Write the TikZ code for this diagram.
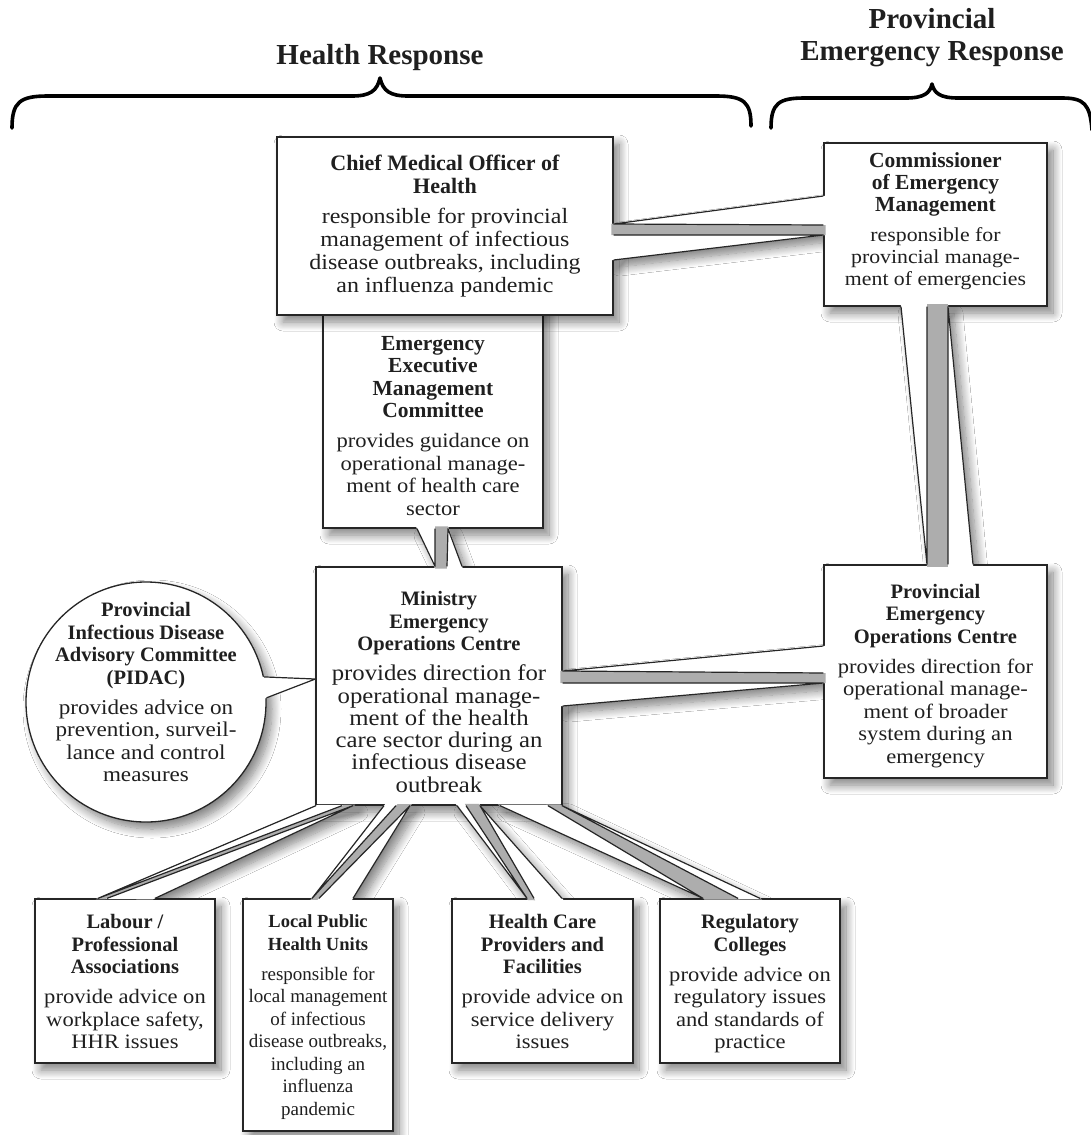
\documentclass[tikz,border=0pt]{standalone}
\usepackage{fontspec}
\setmainfont{Liberation Serif}[UprightFeatures={FakeStretch=1.1}]
\newfontfamily\plainserif{Liberation Serif}
\usetikzlibrary{calc,shadows.blur}

\tikzset{
  softshadow/.style={blur shadow={shadow xshift=6pt, shadow yshift=-7pt, shadow blur radius=9pt,
      shadow blur steps=12, shadow opacity=50}},
  orgbox/.style={draw=black!85, line width=1.3pt, fill=white, rectangle, inner sep=0pt, softshadow},
  orgtext/.style={align=center, text=black!88, font=\fontsize{20.5}{22.5}\selectfont, inner sep=0pt},
  ribline/.style={draw=black!85, line width=1.2pt, line join=round},
  bandfill/.style={fill=black!32},
  header/.style={font=\fontsize{29}{32}\selectfont\bfseries, text=black!88, align=center, inner sep=0pt},
  brace/.style={draw=black, line width=3.6pt, line cap=round, line join=round},
}

% bold heading line of a box, optional size
\newcommand\ttl[2][20.5]{{\fontsize{#1}{22.5}\selectfont\bfseries #2}}

% soft shadow of a connector: #1,#3 outer points on one box, #4,#6 on the other
\newcommand\ribbonshadow[6]{%
  \fill[white, softshadow] (#4) -- (#1) -- (#3) -- (#6) -- cycle;
}
% Two facing callout wedges with a shaded band between them.
% #1,#2,#3: points on the first box edge; #4,#5,#6: points on the second box edge.
\newcommand\ribbon[6]{%
  \fill[white] ($(#4)!-2.2pt!(#1)$) -- ($(#1)!-2.2pt!(#5)$) -- ($(#3)!-2.2pt!(#6)$) -- ($(#6)!-2.2pt!(#2)$) -- cycle;
  \fill[bandfill] ($(#1)!-2.2pt!(#5)$) -- ($(#5)!-2.2pt!(#1)$) -- ($(#6)!-2.2pt!(#2)$) -- ($(#2)!-2.2pt!(#6)$) -- cycle;
  \draw[ribline] (#4) -- (#1) -- (#5);
  \draw[ribline] (#2) -- (#6) -- (#3);
}

\begin{document}
\begin{tikzpicture}[x=1pt, y=-1pt]
\useasboundingbox (0,0) rectangle (1091,1135);
\fill[white] (0,0) rectangle (1091,1135);
% off-page warm-up of the shadow transparency states
\fill[white, softshadow] (-300,-300) rectangle (-250,-250);

% headings and braces
\node[header, anchor=base] (hhealth) at (380,64) {Health Response};
\node[header] (hprov) at (932,38) {Provincial\\Emergency Response};
\draw[brace] (12,128) .. controls (12,102) and (20,96) .. (48,96) -- (352,96)
  .. controls (370,96) and (377,91) .. (380,78) .. controls (383,91) and (390,96) .. (408,96)
  -- (716,96) .. controls (744,96) and (751,102) .. (751,126);
\draw[brace] (771,128) .. controls (771,103) and (779,98) .. (805,98) -- (906,98)
  .. controls (924,98) and (930,93) .. (932,84) .. controls (934,93) and (940,98) .. (958,98)
  -- (1062,98) .. controls (1084,98) and (1090,104) .. (1092,130);

% boxes and their texts
\node[orgbox, minimum width=220pt, minimum height=228pt] (eemc) at (433,414) {};
\node[orgtext] (eemctxt) at (433,426)
  {\ttl[21.5]{Emergency}\\\ttl[21.5]{Executive}\\\ttl[21.5]{Management}\\\ttl[21.5]{Committee}\\[7.5pt]provides guidance on\\operational manage-\\ment of health care\\sector};
\node[orgbox, minimum width=336pt, minimum height=178pt] (cmoh) at (445,226) {};
\node[orgtext, font=\fontsize{21.8}{23}\selectfont] (cmohtxt) at (445,226)
  {\ttl[22]{Chief Medical Officer of}\\\ttl[22]{Health}\\[7.5pt]responsible for provincial\\management of infectious\\disease outbreaks, including\\an influenza pandemic};
\node[orgbox, minimum width=223pt, minimum height=163pt] (comm) at (935.5,224.5) {};
\node[orgtext, font=\fontsize{19.8}{22}\selectfont] (commtxt) at (935.5,221)
  {\ttl[21.5]{Commissioner}\\\ttl[21.5]{of Emergency}\\\ttl[21.5]{Management}\\[7.5pt]responsible for\\provincial manage-\\ment of emergencies};
\node[orgbox, circle, minimum size=240pt] (pidac) at (146,702) {};
\node[orgtext, font=\fontsize{21}{22.5}\selectfont] (pidactxt) at (146,692)
  {\ttl{Provincial}\\\ttl{Infectious Disease}\\\ttl{Advisory Committee}\\\ttl{(PIDAC)}\\[7.5pt]provides advice on\\prevention, surveil-\\lance and control\\measures};
\node[orgbox, minimum width=246pt, minimum height=238pt] (ministry) at (439,686) {};
\node[orgtext, font=\fontsize{22.5}{22.3}\selectfont] (ministrytxt) at (439,692)
  {\ttl{Ministry}\\\ttl{Emergency}\\\ttl{Operations Centre}\\[8pt]provides direction for\\operational manage-\\ment of the health\\care sector during an\\infectious disease\\outbreak};
\node[orgbox, minimum width=223pt, minimum height=213pt] (peoc) at (935.5,671.5) {};
\node[orgtext] (peoctxt) at (935.5,676)
  {\ttl{Provincial}\\\ttl{Emergency}\\\ttl{Operations Centre}\\[7.5pt]provides direction for\\operational manage-\\ment of broader\\system during an\\emergency};
\node[orgbox, minimum width=180pt, minimum height=164pt] (labour) at (125,981) {};
\node[orgtext] (labourtxt) at (125,981.5)
  {\ttl{Labour /}\\\ttl{Professional}\\\ttl{Associations}\\[7.5pt]provide advice on\\workplace safety,\\HHR issues};
\node[orgbox, minimum width=150pt, minimum height=232pt] (lphu) at (318,1015) {};
\node[orgtext, font=\plainserif\fontsize{19}{22.5}\selectfont] (lphutxt) at (318,1017)
  {\ttl[18.5]{Local Public}\\\ttl[18.5]{Health Units}\\[7.5pt]responsible for\\local management\\of infectious\\disease outbreaks,\\including an\\influenza\\pandemic};
\node[orgbox, minimum width=181pt, minimum height=164pt] (hcpf) at (542.5,981) {};
\node[orgtext] (hcpftxt) at (542.5,981.5)
  {\ttl{Health Care}\\\ttl{Providers and}\\\ttl{Facilities}\\[7.5pt]provide advice on\\service delivery\\issues};
\node[orgbox, minimum width=180pt, minimum height=164pt] (reg) at (750,981) {};
\node[orgtext] (regtxt) at (750,984)
  {\ttl{Regulatory}\\\ttl{Colleges}\\[7.5pt]provide advice on\\regulatory issues\\and standards of\\practice};

% attachment points of the connectors
\coordinate (cm1) at (cmoh.east |- 0,224);
\coordinate (cm2) at (cmoh.east |- 0,235);
\coordinate (cm3) at (cmoh.east |- 0,260);
\coordinate (co1) at (comm.west |- 0,196);
\coordinate (co2) at (comm.west |- 0,225);
\coordinate (co3) at (comm.west |- 0,235);

\coordinate (me1) at (ministry.north -| 435,0);
\coordinate (me2) at (ministry.north -| 447,0);
\coordinate (me3) at (ministry.north -| 462,0);
\coordinate (ee1) at (eemc.south -| 417,0);
\coordinate (ee2) at (eemc.south -| 435,0);
\coordinate (ee3) at (eemc.south -| 448,0);

\coordinate (pe1) at (peoc.north -| 927,0);
\coordinate (pe2) at (peoc.north -| 948,0);
\coordinate (pe3) at (peoc.north -| 973,0);
\coordinate (cs1) at (comm.south -| 901,0);
\coordinate (cs2) at (comm.south -| 927,0);
\coordinate (cs3) at (comm.south -| 948,0);

\coordinate (mr1) at (ministry.east |- 0,671);
\coordinate (mr2) at (ministry.east |- 0,683);
\coordinate (mr3) at (ministry.east |- 0,706);
\coordinate (pw1) at (peoc.west |- 0,646);
\coordinate (pw2) at (peoc.west |- 0,673);
\coordinate (pw3) at (peoc.west |- 0,683);

\coordinate (lb1) at (labour.north -| 98,0);
\coordinate (lb2) at (labour.north -| 107,0);
\coordinate (lb3) at (labour.north -| 155,0);
\coordinate (ms1) at (ministry.south -| 316,0);
\coordinate (ms2) at (ministry.south -| 342,0);
\coordinate (ms3) at (ministry.south -| 353,0);

\coordinate (lp1) at (lphu.north -| 312,0);
\coordinate (lp2) at (lphu.north -| 319,0);
\coordinate (lp3) at (lphu.north -| 353,0);
\coordinate (ms4) at (ministry.south -| 384,0);
\coordinate (ms5) at (ministry.south -| 396,0);
\coordinate (ms6) at (ministry.south -| 410,0);

\coordinate (hc1) at (hcpf.north -| 527,0);
\coordinate (hc2) at (hcpf.north -| 534,0);
\coordinate (hc3) at (hcpf.north -| 562,0);
\coordinate (ms7) at (ministry.south -| 457,0);
\coordinate (ms8) at (ministry.south -| 466,0);
\coordinate (ms9) at (ministry.south -| 480,0);

\coordinate (rg1) at (reg.north -| 703,0);
\coordinate (rg2) at (reg.north -| 738,0);
\coordinate (rg3) at (reg.north -| 760,0);
\coordinate (ms10) at (ministry.south -| 500,0);
\coordinate (ms11) at (ministry.south -| 548,0);
\coordinate (ms12) at (ministry.south -| 562,0);

% connector shadows, kept off the boxes
\begin{scope}
  \clip (0,0) rectangle (1091,1135)
    (cmoh.north east) rectangle (cmoh.south west)
    (comm.north east) rectangle (comm.south west)
    (eemc.north east) rectangle (eemc.south west)
    (ministry.north east) rectangle (ministry.south west)
    (peoc.north east) rectangle (peoc.south west)
    (labour.north east) rectangle (labour.south west)
    (lphu.north east) rectangle (lphu.south west)
    (hcpf.north east) rectangle (hcpf.south west)
    (reg.north east) rectangle (reg.south west);
  \ribbonshadow{cm1}{cm2}{cm3}{co1}{co2}{co3}
  \ribbonshadow{me1}{me2}{me3}{ee1}{ee2}{ee3}
  \ribbonshadow{pe1}{pe2}{pe3}{cs1}{cs2}{cs3}
  \ribbonshadow{mr1}{mr2}{mr3}{pw1}{pw2}{pw3}
  \ribbonshadow{lb1}{lb2}{lb3}{ms1}{ms2}{ms3}
  \ribbonshadow{lp1}{lp2}{lp3}{ms4}{ms5}{ms6}
  \ribbonshadow{hc1}{hc2}{hc3}{ms7}{ms8}{ms9}
  \ribbonshadow{rg1}{rg2}{rg3}{ms10}{ms11}{ms12}
\end{scope}

% connectors
\ribbon{cm1}{cm2}{cm3}{co1}{co2}{co3}
\ribbon{me1}{me2}{me3}{ee1}{ee2}{ee3}
\ribbon{pe1}{pe2}{pe3}{cs1}{cs2}{cs3}
\ribbon{mr1}{mr2}{mr3}{pw1}{pw2}{pw3}
\ribbon{lb1}{lb2}{lb3}{ms1}{ms2}{ms3}
\ribbon{lp1}{lp2}{lp3}{ms4}{ms5}{ms6}
\ribbon{hc1}{hc2}{hc3}{ms7}{ms8}{ms9}
\ribbon{rg1}{rg2}{rg3}{ms10}{ms11}{ms12}

% PIDAC pointer
\coordinate (pa) at (pidac.12);
\coordinate (pb) at (pidac.2);
\coordinate (pt) at (ministry.west |- 0,679);
\fill[white] ($(pa)!-3pt!(pt)$) -- (pt) -- ($(pb)!-3pt!(pt)$) -- cycle;
\draw[ribline] (pa) -- (pt) -- (pb);
\end{tikzpicture}
\end{document}
